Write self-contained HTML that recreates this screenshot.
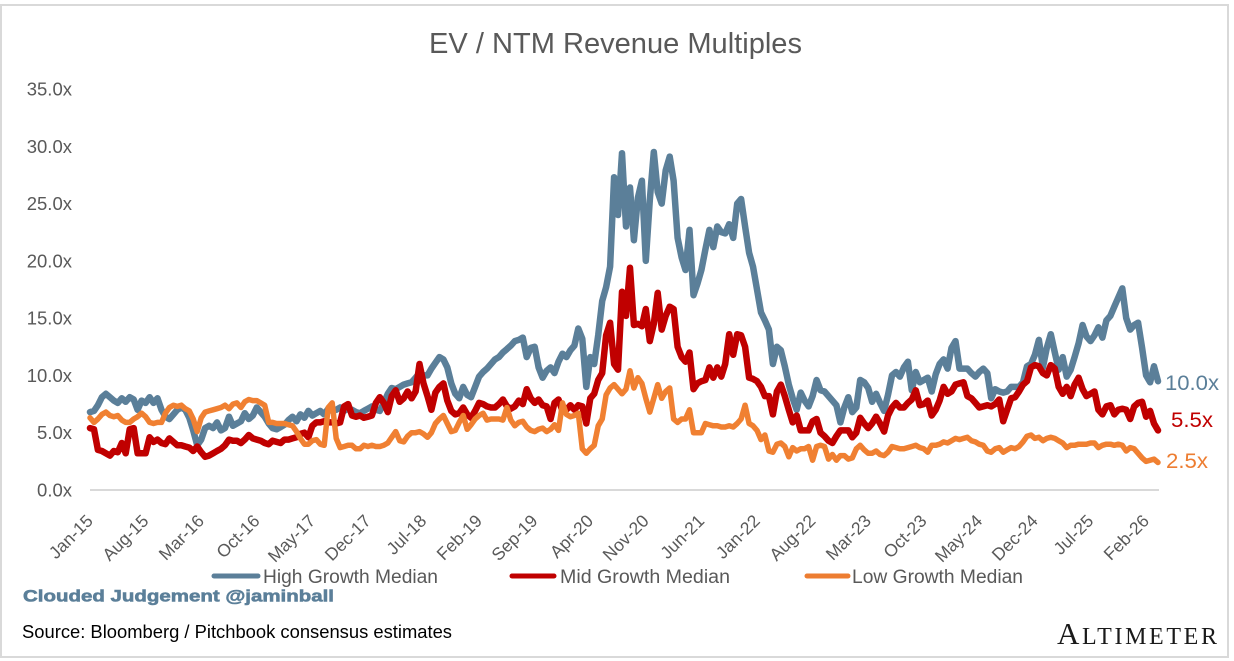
<!DOCTYPE html>
<html lang="en">
<head>
<meta charset="utf-8">
<title>EV / NTM Revenue Multiples</title>
<style>
html,body{margin:0;padding:0;background:#fff;}
svg{display:block;}
text{font-family:"Liberation Sans",sans-serif;}
</style>
</head>
<body>
<svg id="chart" width="1234" height="661" viewBox="0 0 1234 661" xmlns="http://www.w3.org/2000/svg">
  <rect x="0" y="0" width="1234" height="661" fill="#ffffff"/>
  <rect x="1" y="5" width="1227" height="652" fill="none" stroke="#d9d9d9" stroke-width="2"/>
  <text x="429" y="53" font-size="28.5" fill="#595959" textLength="373" lengthAdjust="spacingAndGlyphs">EV / NTM Revenue Multiples</text>
  <g id="y-axis"></g>
  <g id="x-axis"></g>
  <g id="series"></g>

  <text x="1165" y="390" font-size="21" fill="#5b7f99" textLength="54" lengthAdjust="spacingAndGlyphs">10.0x</text>
  <text x="1171" y="427" font-size="21" fill="#c00000" textLength="42" lengthAdjust="spacingAndGlyphs">5.5x</text>
  <text x="1166" y="468" font-size="21" fill="#ed7d31" textLength="42" lengthAdjust="spacingAndGlyphs">2.5x</text>

  <g>
    <g>
      <line x1="214" y1="576" x2="258" y2="576" stroke="#5b7f99" stroke-width="5" stroke-linecap="round"/>
      <text x="263" y="583" font-size="19" fill="#595959" textLength="175" lengthAdjust="spacingAndGlyphs">High Growth Median</text>
    </g>
    <g>
      <line x1="512" y1="576" x2="554" y2="576" stroke="#c00000" stroke-width="5" stroke-linecap="round"/>
      <text x="560" y="583" font-size="19" fill="#595959" textLength="170" lengthAdjust="spacingAndGlyphs">Mid Growth Median</text>
    </g>
    <g>
      <line x1="807" y1="576" x2="848" y2="576" stroke="#ed7d31" stroke-width="5" stroke-linecap="round"/>
      <text x="852" y="583" font-size="19" fill="#595959" textLength="171" lengthAdjust="spacingAndGlyphs">Low Growth Median</text>
    </g>
  </g>

  <text x="23" y="601.5" font-size="17" font-weight="bold" fill="#5b7f99" stroke="#5b7f99" stroke-width="0.6" textLength="311" lengthAdjust="spacingAndGlyphs">Clouded Judgement @jaminball</text>
  <text x="22" y="638" font-size="18" fill="#000000" textLength="430" lengthAdjust="spacingAndGlyphs">Source: Bloomberg / Pitchbook consensus estimates</text>
  <text x="1057" y="644" fill="#1a1a1a" style="font-family:'Liberation Serif',serif" textLength="160" lengthAdjust="spacing"><tspan font-size="31">A</tspan><tspan font-size="24">LTIMETER</tspan></text>
</svg>
<script>
// Tick labels: one label every 14 half-month samples
const xTickLabels = ["Jan-15","Aug-15","Mar-16","Oct-16","May-17","Dec-17","Jul-18","Feb-19","Sep-19","Apr-20","Nov-20","Jun-21","Jan-22","Aug-22","Mar-23","Oct-23","May-24","Dec-24","Jul-25","Feb-26"];
const yTickValues = [0,5,10,15,20,25,30,35];

// Median EV / NTM revenue multiple, sampled twice a month from Jan-15
const highGrowth = [
6.8,6.9,7.4,8.1,8.4,8.1,7.8,7.6,8.0,7.7,
8.1,7.9,7.0,7.8,7.6,8.1,7.6,8.0,7.0,6.4,
6.2,6.6,7.0,7.2,7.0,6.3,5.2,3.9,4.4,5.4,
5.6,5.4,5.9,5.2,5.4,6.4,5.6,5.8,6.0,6.7,
6.2,6.5,7.2,6.8,6.4,5.8,5.4,5.3,5.5,5.7,
6.1,6.4,6.0,6.6,6.3,6.9,6.5,6.7,6.9,6.6,
7.1,6.9,7.0,7.2,6.9,7.1,7.0,6.8,6.7,6.9,
7.1,7.3,7.0,6.9,7.6,8.4,8.9,8.8,9.0,9.2,
9.3,9.4,9.8,10.2,10.0,10.0,10.6,11.1,11.6,11.4,
10.7,9.3,8.4,8.0,9.0,8.3,8.1,9.0,9.9,10.3,
10.6,11.0,11.4,11.6,12.0,12.3,12.6,13.0,13.1,13.3,
11.6,12.4,12.5,10.7,9.8,10.4,10.7,10.2,11.2,11.9,
11.6,12.2,12.6,14.1,13.2,9.0,11.6,11.0,13.5,16.5,
17.7,19.5,27.3,24.0,29.4,23.0,26.4,21.8,25.5,27.0,
20.0,25.3,29.5,26.0,25.0,27.9,29.1,27.0,22.0,20.3,
19.2,22.7,17.0,18.0,19.2,21.0,22.7,21.2,23.0,22.5,
22.4,23.2,22.0,25.0,25.4,23.0,20.7,19.5,17.5,15.5,
14.8,14.0,11.0,12.5,12.2,10.8,9.2,8.0,7.0,8.5,
7.8,7.3,8.2,9.6,8.7,8.6,8.2,7.8,7.4,5.9,
7.2,8.1,6.8,7.2,9.6,9.4,8.9,7.7,8.4,7.6,
6.9,8.3,10.0,10.3,9.9,10.7,11.2,8.7,10.3,9.4,
9.6,9.8,8.6,10.1,11.0,11.4,10.6,12.4,13.0,10.6,
10.6,10.6,10.2,9.9,10.3,10.6,10.2,8.0,8.8,8.6,
8.5,8.6,9.0,9.0,9.0,9.4,10.8,11.0,11.8,13.1,
10.7,12.4,13.6,12.0,10.5,11.6,9.9,10.5,11.6,12.8,
14.4,13.4,13.0,13.5,14.2,13.3,14.8,15.2,16.0,16.8,
17.6,15.0,14.0,14.4,14.6,12.4,10.0,9.4,10.8,9.5
];
const midGrowth = [
5.4,5.3,3.5,3.4,3.2,3.0,3.4,3.3,4.1,3.2,
5.3,5.4,3.2,3.2,3.2,4.6,4.2,4.4,4.1,4.0,
4.5,4.2,3.9,3.9,3.8,3.7,3.4,3.8,3.3,2.9,
3.0,3.2,3.4,3.6,3.9,4.4,4.3,4.3,4.1,4.4,
4.8,4.5,4.4,4.3,4.1,4.0,4.3,4.2,4.1,4.4,
4.4,4.5,4.6,4.9,5.0,4.6,5.6,5.9,5.9,6.0,
5.9,5.9,5.8,5.9,7.3,7.5,6.5,6.4,6.5,6.3,
6.4,6.5,7.6,8.1,7.6,6.8,8.2,8.7,7.7,8.0,
8.6,8.0,8.6,11.0,9.3,8.2,7.0,8.5,9.0,9.3,
7.8,6.9,6.6,6.7,7.2,6.6,6.3,6.9,7.6,7.5,
7.3,7.2,7.2,7.5,7.9,7.3,7.1,7.3,7.8,7.5,
8.8,8.0,7.6,7.9,7.4,7.3,6.2,7.6,7.9,6.9,
7.0,7.4,7.0,7.4,7.3,5.8,8.0,8.4,9.6,10.2,
13.5,14.6,11.0,10.5,17.3,15.2,19.4,14.4,14.5,14.3,
15.8,13.0,14.5,17.2,14.0,15.2,16.0,15.8,12.5,11.6,
11.2,12.0,8.8,9.3,9.5,9.6,10.7,9.8,10.7,9.9,
11.0,13.6,11.8,13.6,13.5,12.5,9.8,9.7,9.5,9.0,
8.2,8.2,6.6,8.6,9.2,8.2,7.0,5.9,6.5,5.2,
5.2,5.2,6.0,6.2,5.0,4.7,4.3,4.1,4.7,5.2,
5.2,5.2,4.6,5.0,6.3,5.8,5.4,5.8,6.4,5.8,
5.1,6.5,7.2,7.6,7.2,7.2,7.6,7.9,8.7,7.4,
7.5,7.8,6.5,7.0,7.8,9.0,8.4,8.6,9.2,9.3,
9.4,8.2,8.0,7.6,7.2,7.3,7.4,7.3,7.5,7.9,
6.0,7.0,8.0,8.1,8.6,9.2,9.5,10.7,10.9,10.8,
10.2,10.0,10.9,10.6,9.0,8.4,9.0,8.2,9.2,9.8,
8.8,8.2,8.4,8.6,7.0,6.6,7.3,7.4,6.6,7.0,
7.1,7.0,6.2,7.3,7.6,7.7,6.4,6.9,5.8,5.2
];
const lowGrowth = [
6.3,5.9,6.2,6.6,6.8,6.5,6.4,6.5,6.1,5.9,
5.9,6.2,6.4,6.7,6.4,5.9,5.8,5.9,5.9,6.7,
7.2,7.4,7.3,7.4,7.1,6.9,6.2,5.1,6.3,6.8,
6.9,7.0,7.1,7.2,7.4,7.1,7.5,7.6,7.2,7.7,
7.9,7.8,7.8,7.6,7.4,5.9,5.9,5.8,5.8,5.8,
5.7,5.6,5.1,4.5,4.0,4.0,4.3,4.4,4.0,3.9,
7.2,7.6,4.5,3.7,3.8,3.9,3.9,3.6,3.6,3.9,
3.8,3.9,3.8,3.8,3.9,4.1,4.6,5.1,4.3,4.2,
4.7,5.0,5.0,5.1,4.9,4.6,5.0,5.8,6.2,6.5,
5.8,5.1,5.2,5.9,6.5,5.3,5.7,6.2,6.5,6.7,
6.1,6.2,6.2,6.2,6.1,7.2,6.1,5.6,5.9,6.0,
5.5,5.2,5.1,5.3,5.4,5.1,5.3,5.7,5.2,7.6,
6.6,6.4,6.5,6.7,3.6,3.2,3.6,3.9,5.6,6.2,
8.3,8.9,9.2,8.8,8.4,8.8,10.4,8.9,9.8,9.3,
8.0,6.8,8.0,9.2,8.0,8.6,8.9,6.2,5.9,6.2,
6.2,7.0,5.0,5.0,5.0,5.8,5.7,5.6,5.6,5.5,
5.5,5.6,5.5,5.8,6.2,7.4,5.8,5.6,5.2,4.4,
4.8,3.4,3.3,4.0,4.1,3.8,2.9,3.7,3.4,3.6,
3.6,3.8,2.6,3.8,3.9,3.8,2.7,3.1,2.6,3.0,
3.0,2.7,2.8,3.6,3.9,3.5,3.2,3.2,3.4,3.1,
3.0,3.3,3.8,3.7,3.6,3.6,3.7,3.8,3.9,3.7,
3.6,3.3,3.9,3.9,4.0,4.2,4.1,4.3,4.5,4.4,
4.5,4.6,4.3,4.2,4.0,3.9,3.4,3.3,3.6,3.7,
3.3,3.5,3.7,3.6,3.8,4.2,4.7,4.8,4.5,4.6,
4.3,4.5,4.6,4.5,4.3,4.1,3.7,3.9,3.9,4.0,
4.0,4.0,4.1,4.1,3.7,3.9,4.0,4.0,3.9,4.0,
3.9,3.4,3.7,3.6,3.2,2.8,2.5,2.6,2.7,2.4
];

const SVG_NS = "http://www.w3.org/2000/svg";
const samplesPerTick = 14;
const plotLeft = 90, plotRight = 1158, plotBottom = 490, plotTop = 89;

function xScale(i) {
  return plotLeft + i * (plotRight - plotLeft) / (highGrowth.length - 1);
}
function yScale(v) {
  return plotBottom - v * (plotBottom - plotTop) / yTickValues[yTickValues.length - 1];
}
function make(tag, attrs, parent) {
  const el = document.createElementNS(SVG_NS, tag);
  for (const k in attrs) el.setAttribute(k, attrs[k]);
  parent.appendChild(el);
  return el;
}

const yAxis = document.getElementById("y-axis");
yTickValues.forEach(function (v) {
  const t = make("text", {x: 72, y: yScale(v) + 6.5, "text-anchor": "end", "font-size": 18.5, fill: "#595959"}, yAxis);
  
  
  t.textContent = v.toFixed(1) + "x";
});

const xAxis = document.getElementById("x-axis");
const axisLine = make("line", {x1: plotLeft, y1: plotBottom, x2: plotRight + 1, y2: plotBottom, stroke: "#d9d9d9", "stroke-width": 2}, xAxis);


xTickLabels.forEach(function (label, k) {
  const ax = xScale(k * samplesPerTick) + 4;
  const t = make("text", {x: ax, y: 522, "text-anchor": "end", "font-size": 17.5, fill: "#595959", transform: "rotate(-45 " + ax + " 522)"}, xAxis);
  
  
  t.textContent = label;
});

function drawSeries(values, color, width, name) {
  const d = values.map(function (v, i) {
    return (i ? "L" : "M") + xScale(i).toFixed(1) + " " + yScale(v).toFixed(1);
  }).join(" ");
  const p = make("path", {d: d, fill: "none", stroke: color, "stroke-width": width, "stroke-linejoin": "round", "stroke-linecap": "round"}, document.getElementById("series"));
  
  
}
drawSeries(highGrowth, "#5b7f99", 6.5, "high-growth-median-line");
drawSeries(midGrowth, "#c00000", 6.5, "mid-growth-median-line");
drawSeries(lowGrowth, "#f08032", 5.5, "low-growth-median-line");
</script>
</body>
</html>
